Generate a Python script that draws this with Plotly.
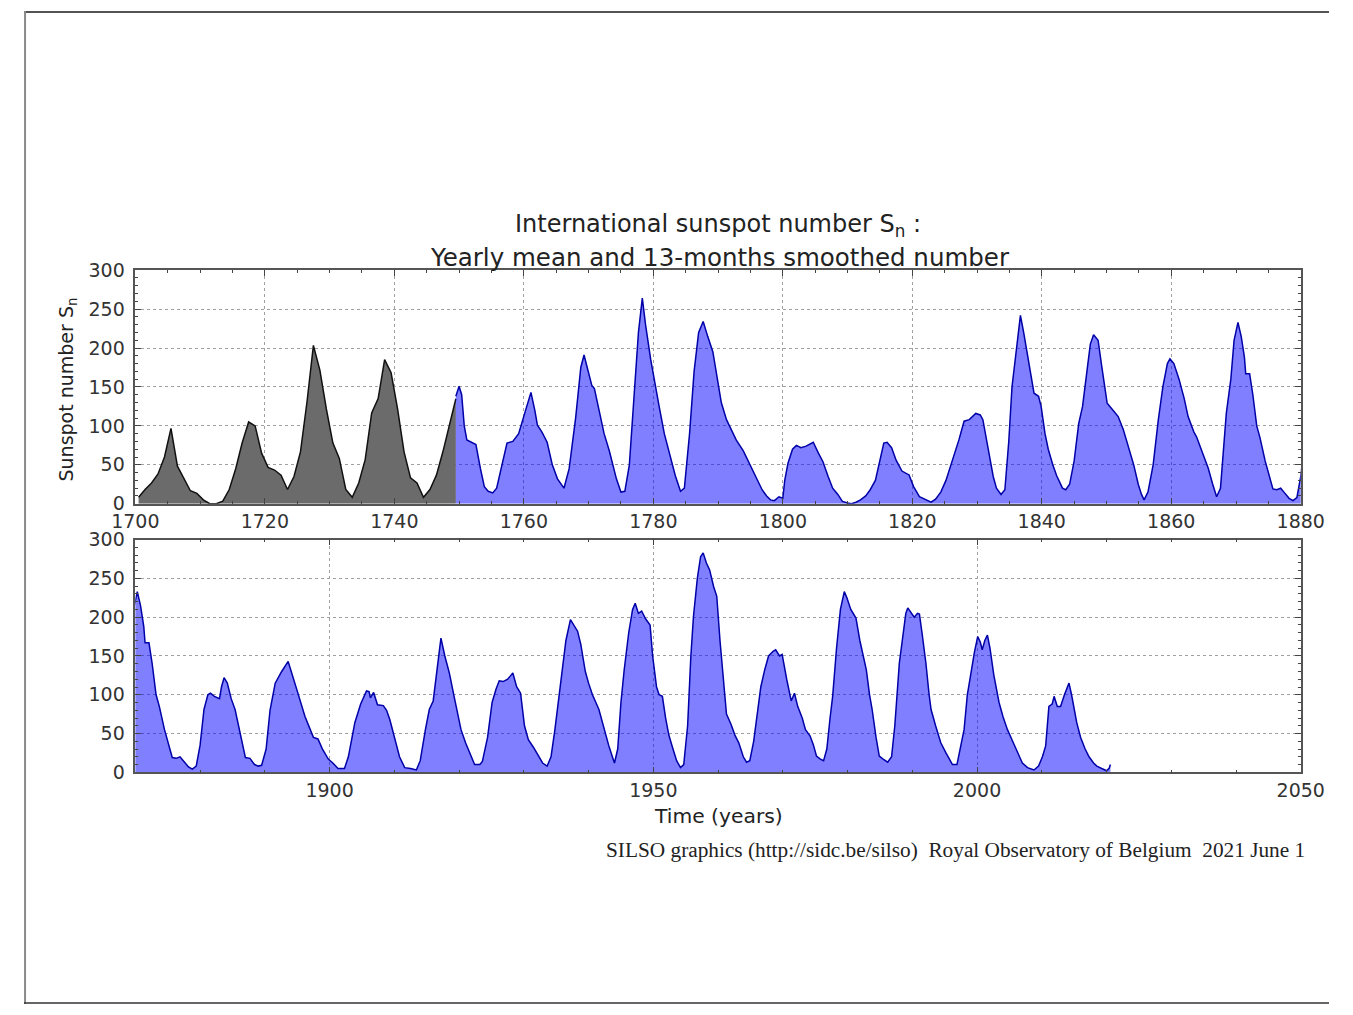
import plotly.graph_objects as go

W, H = 1353, 1015

# ---- data: yearly mean sunspot number 1700-1749 (grey) ----
gray_years = list(range(1700, 1750))
gray_vals = [8.3, 18.3, 26.7, 38.3, 60.0, 96.7, 48.3, 33.3, 16.7, 13.3,
             5.0, 0.0, 0.0, 3.3, 18.3, 45.0, 78.3, 105.0, 100.0, 65.0,
             46.7, 43.3, 36.7, 18.3, 35.0, 66.7, 130.0, 203.3, 171.7, 121.7,
             78.3, 58.3, 18.3, 8.3, 26.7, 56.7, 116.7, 135.0, 185.0, 168.3,
             121.7, 66.7, 33.3, 26.7, 8.3, 18.3, 36.7, 66.7, 100.0, 134.8]
gray_times = [y + 0.5 for y in gray_years]

# ---- data: 13-month smoothed monthly number (blue) ----
blue_times = [
    1749.5, 1750.0, 1750.4, 1750.8, 1751.2, 1752.0, 1752.6, 1753.3, 1753.9, 1754.5,
    1755.2, 1755.8, 1756.6, 1757.4, 1758.3, 1759.2, 1760.2, 1761.1, 1761.7, 1762.1,
    1762.8, 1763.6, 1764.4, 1765.2, 1766.2, 1767.0, 1768.0, 1768.8, 1769.3, 1769.9,
    1770.5, 1770.9, 1771.6, 1772.4, 1773.2, 1773.6, 1774.3, 1775.0, 1775.6, 1776.3,
    1777.0, 1777.7, 1778.3, 1778.8, 1779.6, 1780.3, 1780.9, 1781.7, 1782.6, 1783.4,
    1784.2, 1784.8, 1785.6, 1786.3, 1787.0, 1787.7, 1788.4, 1789.2, 1789.9, 1790.5,
    1791.3, 1792.0, 1792.8, 1793.9, 1794.8, 1795.8, 1796.8, 1797.5, 1798.1, 1798.7,
    1799.4, 1800.0, 1800.3, 1800.8, 1801.5, 1802.1, 1802.8, 1803.6, 1804.2, 1804.7,
    1805.5, 1806.2, 1807.0, 1807.7, 1808.5, 1809.2, 1810.0, 1810.6, 1811.3, 1812.0,
    1812.8, 1813.5, 1814.3, 1815.0, 1815.6, 1816.1, 1816.8, 1817.5, 1818.4, 1819.5,
    1820.2, 1821.1, 1822.0, 1822.9, 1823.6, 1824.4, 1825.2, 1826.2, 1827.2, 1828.0,
    1828.8, 1829.8, 1830.5, 1830.9, 1831.5, 1831.9, 1832.5, 1833.0, 1833.7, 1834.3,
    1834.9, 1835.4, 1835.8, 1836.3, 1836.7, 1837.2, 1837.7, 1838.3, 1838.8, 1839.5,
    1839.9, 1840.5, 1841.0, 1841.7, 1842.3, 1843.2, 1843.7, 1844.3, 1845.0, 1845.7,
    1846.3, 1847.0, 1847.5, 1848.0, 1848.7, 1849.2, 1849.7, 1850.1, 1851.0, 1851.8,
    1852.6, 1853.4, 1854.2, 1854.9, 1855.4, 1855.8, 1856.4, 1857.2, 1858.0, 1858.7,
    1859.4, 1859.8, 1860.4, 1861.2, 1862.0, 1862.6, 1863.5, 1863.9, 1864.8, 1865.7,
    1866.4, 1867.0, 1867.6, 1868.1, 1868.5, 1869.2, 1869.7, 1870.3, 1870.8, 1871.3,
    1871.5, 1872.1, 1872.6, 1873.2, 1873.7, 1874.5, 1875.2, 1875.7, 1876.3, 1876.9,
    1877.5, 1878.2, 1878.8, 1879.4, 1880.0, 1880.6, 1881.2, 1881.6, 1882.2, 1883.0,
    1883.3, 1883.7, 1884.2, 1884.8, 1885.4, 1886.2, 1887.0, 1887.7, 1888.4, 1889.0,
    1889.5, 1890.2, 1890.8, 1891.6, 1892.6, 1893.6, 1894.2, 1895.0, 1896.2, 1897.5,
    1898.2, 1898.9, 1899.8, 1900.5, 1901.3, 1902.3, 1902.9, 1903.9, 1904.8, 1905.7,
    1906.1, 1906.3, 1906.8, 1907.4, 1908.3, 1908.8, 1909.3, 1910.0, 1910.8, 1911.6,
    1912.5, 1913.4, 1914.0, 1914.8, 1915.4, 1916.0, 1916.4, 1917.2, 1917.8, 1918.5,
    1919.3, 1920.3, 1921.0, 1921.8, 1922.4, 1923.2, 1923.6, 1924.4, 1925.1, 1925.7,
    1926.2, 1926.8, 1927.5, 1928.0, 1928.3, 1928.9, 1929.5, 1930.1, 1930.7, 1931.5,
    1932.2, 1932.9, 1933.6, 1934.2, 1934.8, 1935.4, 1936.0, 1936.5, 1937.2, 1937.8,
    1938.3, 1938.8, 1939.5, 1940.0, 1940.6, 1941.6, 1942.4, 1943.1, 1943.6, 1944.0,
    1944.5, 1945.0, 1945.5, 1946.2, 1946.8, 1947.2, 1947.7, 1948.2, 1948.8, 1949.5,
    1949.9, 1950.5, 1950.9, 1951.4, 1951.9, 1952.4, 1952.9, 1953.6, 1954.2, 1954.7,
    1955.3, 1955.8, 1956.2, 1956.8, 1957.3, 1957.7, 1958.2, 1958.7, 1959.3, 1959.8,
    1960.3, 1960.9, 1961.3, 1962.0, 1962.6, 1963.2, 1963.9, 1964.4, 1964.9, 1965.5,
    1966.0, 1966.6, 1967.2, 1967.8, 1968.5, 1968.9, 1969.5, 1969.9, 1970.6, 1971.3,
    1971.8, 1972.3, 1973.0, 1973.5, 1974.2, 1974.7, 1975.2, 1975.8, 1976.3, 1976.8,
    1977.3, 1977.7, 1978.3, 1978.9, 1979.5, 1979.9, 1980.5, 1981.3, 1981.9, 1982.4,
    1982.9, 1983.4, 1983.8, 1984.4, 1984.9, 1985.5, 1986.2, 1986.8, 1987.3, 1988.0,
    1988.6, 1989.0, 1989.3, 1989.9, 1990.3, 1990.8, 1991.1, 1991.5, 1992.1, 1992.6,
    1992.9, 1993.6, 1994.4, 1995.2, 1995.9, 1996.2, 1996.9, 1997.4, 1998.0, 1998.5,
    1999.0, 1999.6, 2000.1, 2000.5, 2000.8, 2001.2, 2001.6, 2002.0, 2002.6, 2003.4,
    2004.0, 2004.7, 2005.5, 2006.3, 2007.0, 2007.8, 2008.8, 2009.5, 2010.1, 2010.6,
    2011.0, 2011.1, 2011.6, 2011.9, 2012.4, 2012.9, 2013.5, 2014.0, 2014.2, 2014.6,
    2015.0, 2015.4, 2016.0, 2016.7, 2017.3, 2018.0, 2018.5, 2019.2, 2020.0, 2020.4,
    2020.6]
blue_vals = [
    138, 151, 140, 100, 82, 79, 76, 45, 22, 16,
    14, 20, 50, 78, 80, 90, 118, 143, 120, 101,
    92, 79, 50, 32, 20, 45, 110, 175, 191, 170,
    152, 148, 120, 90, 68, 55, 32, 15, 16, 50,
    130, 220, 264, 230, 185, 150, 125, 90, 60, 36,
    16, 20, 90, 170, 220, 234, 215, 195, 160, 130,
    108, 95, 82, 68, 52, 35, 18, 10, 5, 4,
    9, 7, 30, 52, 70, 75, 72, 74, 77, 79,
    65, 54, 35, 20, 12, 3, 1, 0, 2, 5,
    10, 18, 30, 55, 78, 79, 72, 56, 42, 37,
    22, 9, 5, 2, 6, 15, 30, 55, 82, 106,
    108, 116, 114, 108, 80, 62, 35, 20, 12, 18,
    80, 150, 180, 215, 242, 220, 195, 165, 142, 138,
    125, 90, 70, 50, 36, 20, 18, 25, 55, 103,
    125, 172, 205, 217, 210, 180, 150, 129, 120, 112,
    95, 73, 50, 25, 12, 5, 15, 50, 108, 150,
    180, 186, 180, 160, 135, 112, 92, 86, 66, 46,
    25, 9, 20, 70, 116, 160, 210, 233, 215, 188,
    167, 167, 140, 100, 85, 55, 32, 19, 18, 20,
    14, 7, 4, 8, 35, 81, 100, 102, 98, 95,
    110, 122, 115, 95, 81, 48, 19, 18, 10, 8,
    9, 30, 80, 115, 130, 143, 128, 105, 72, 45,
    43, 30, 17, 12, 5, 5, 20, 64, 88, 105,
    104, 96, 103, 87, 86, 80, 68, 45, 20, 6,
    5, 3, 15, 55, 81, 92, 120, 173, 150, 128,
    95, 55, 38, 22, 10, 10, 14, 45, 90, 107,
    118, 117, 120, 125, 128, 110, 102, 60, 42, 32,
    21, 12, 8, 20, 55, 98, 140, 170, 197, 188,
    182, 165, 130, 115, 100, 81, 55, 35, 22, 12,
    30, 90, 132, 180, 210, 218, 205, 208, 198, 190,
    150, 110, 100, 98, 70, 48, 34, 15, 6, 10,
    60, 150, 201, 250, 278, 283, 270, 261, 240, 227,
    170, 110, 75, 62, 48, 38, 20, 13, 15, 40,
    72, 110, 132, 150, 156, 158, 150, 152, 120, 92,
    102, 85, 70, 55, 47, 36, 21, 17, 15, 30,
    70, 98, 160, 210, 233, 225, 210, 199, 170, 150,
    132, 100, 81, 45, 21, 17, 13, 20, 60, 141,
    180, 205, 212, 205, 200, 205, 204, 180, 141, 100,
    81, 60, 38, 25, 14, 10, 10, 30, 55, 100,
    128, 155, 175, 168, 158, 170, 177, 160, 125, 90,
    72, 55, 40, 24, 12, 6, 3, 8, 20, 34,
    70, 85, 88, 98, 85, 85, 100, 112, 115, 100,
    80, 64, 45, 30, 20, 12, 8, 5, 2, 5,
    10]

top_ticks = [1700, 1720, 1740, 1760, 1780, 1800, 1820, 1840, 1860, 1880]
bottom_ticks = [1900, 1950, 2000, 2050]
y_ticks = [0, 50, 100, 150, 200, 250, 300]

# ---- layout geometry ----
# Target positions are given in pixels of the photographed picture; the
# photograph places the page at an offset and slight scale, so convert.
SX, OX = 0.9675, 21.3
SY, OY = 0.980, 10.4

def px_x(t):
    return min(max((t - OX) / SX / W, 0.0), 1.0)

def px_y(t):
    return min(max(1 - (t - OY) / SY / H, 0.0), 1.0)

X0, X1 = 133, 1302
TOP_Y0, TOP_Y1 = 270, 504
BOT_Y0, BOT_Y1 = 540, 773

BLUE_FILL = "rgba(0,0,255,0.5)"
BLUE_LINE = "#0000a8"
GRAY_FILL = "#6b6b6b"

fig = go.Figure()

fig.add_trace(go.Scatter(x=gray_times, y=gray_vals, mode="lines",
                         line=dict(color="#111111", width=1.5),
                         fill="tozeroy", fillcolor=GRAY_FILL,
                         xaxis="x", yaxis="y", showlegend=False, hoverinfo="skip"))
fig.add_trace(go.Scatter(x=blue_times, y=blue_vals, mode="lines",
                         line=dict(color=BLUE_LINE, width=1.5),
                         fill="tozeroy", fillcolor=BLUE_FILL,
                         xaxis="x", yaxis="y", showlegend=False, hoverinfo="skip"))
fig.add_trace(go.Scatter(x=blue_times, y=blue_vals, mode="lines",
                         line=dict(color=BLUE_LINE, width=1.5),
                         fill="tozeroy", fillcolor=BLUE_FILL,
                         xaxis="x2", yaxis="y2", showlegend=False, hoverinfo="skip"))

TICKFONT = dict(family="DejaVu Sans, sans-serif", size=19, color="#333333")
common = dict(
    ticks="inside", ticklen=6, tickwidth=1, tickcolor="#444444",
    showline=True, linecolor="#555555", linewidth=1.5, mirror="ticks",
    showgrid=True, gridcolor="#a0a0a0", griddash="dot", gridwidth=1,
    zeroline=False, tickfont=TICKFONT, fixedrange=True,
)

fig.update_layout(
    width=W, height=H,
    margin=dict(l=0, r=0, t=0, b=0, pad=0),
    paper_bgcolor="white", plot_bgcolor="white",
    showlegend=False,
    xaxis=dict(domain=[px_x(X0), px_x(X1)], anchor="y", range=[1700, 1880],
               tickmode="array", tickvals=top_ticks,
               ticktext=[str(t) for t in top_ticks],
               minor=dict(dtick=5, tick0=1700, ticks="inside", ticklen=3,
                          tickcolor="#444444", showgrid=False),
               **common),
    yaxis=dict(domain=[px_y(TOP_Y1), px_y(TOP_Y0)], anchor="x", range=[0, 300],
               tickmode="array", tickvals=y_ticks, ticklabelstandoff=5,
               minor=dict(dtick=10, tick0=0, ticks="inside", ticklen=3,
                          tickcolor="#444444", showgrid=False),
               **common),
    xaxis2=dict(domain=[px_x(X0), px_x(X1)], anchor="y2", range=[1870, 2050],
                tickmode="array", tickvals=bottom_ticks,
                minor=dict(dtick=10, tick0=1870, ticks="inside", ticklen=3,
                           tickcolor="#444444", showgrid=False),
                **common),
    yaxis2=dict(domain=[px_y(BOT_Y1), px_y(BOT_Y0)], anchor="x2", range=[0, 300],
                tickmode="array", tickvals=y_ticks, ticklabelstandoff=5,
                minor=dict(dtick=10, tick0=0, ticks="inside", ticklen=3,
                           tickcolor="#444444", showgrid=False),
                **common),
)

TEXT = "#222222"
fig.add_annotation(x=px_x(717), y=px_y(225), xref="paper", yref="paper",
                   text="International sunspot number S<sub>n</sub> :",
                   showarrow=False, xanchor="center", yanchor="middle",
                   font=dict(family="DejaVu Sans, sans-serif", size=24, color=TEXT))
fig.add_annotation(x=px_x(719), y=px_y(257), xref="paper", yref="paper",
                   text="Yearly mean and 13-months smoothed number",
                   showarrow=False, xanchor="center", yanchor="middle",
                   font=dict(family="DejaVu Sans, sans-serif", size=24.5, color=TEXT))
fig.add_annotation(x=px_x(65), y=px_y(390), xref="paper", yref="paper",
                   text="Sunspot number S<sub>n</sub>", textangle=-90,
                   showarrow=False, xanchor="center", yanchor="middle",
                   font=dict(family="DejaVu Sans, sans-serif", size=19, color=TEXT))
fig.add_annotation(x=px_x(718), y=px_y(817), xref="paper", yref="paper",
                   text="Time (years)",
                   showarrow=False, xanchor="center", yanchor="middle",
                   font=dict(family="DejaVu Sans, sans-serif", size=20.3, color=TEXT))
fig.add_annotation(x=px_x(1308), y=px_y(851), xref="paper", yref="paper",
                   text="SILSO graphics (http://sidc.be/silso)  Royal Observatory of Belgium  2021 June 1",
                   showarrow=False, xanchor="right", yanchor="middle",
                   font=dict(family="Liberation Serif, serif", size=21.3, color=TEXT))

# outer frame of the picture (placed as near the page edge as possible)
fig.add_shape(type="line", xref="paper", yref="paper",
              x0=0, x1=1, y0=0.999, y1=0.999,
              line=dict(color="#1a1a1a", width=1.5))
fig.add_shape(type="line", xref="paper", yref="paper",
              x0=0.0008, x1=0.0008, y0=0, y1=1,
              line=dict(color="#8a8a8a", width=2))
fig.add_shape(type="line", xref="paper", yref="paper",
              x0=0, x1=1, y0=0.001, y1=0.001,
              line=dict(color="#333333", width=1.5))

fig.write_html("out.html", config={"displayModeBar": False})
